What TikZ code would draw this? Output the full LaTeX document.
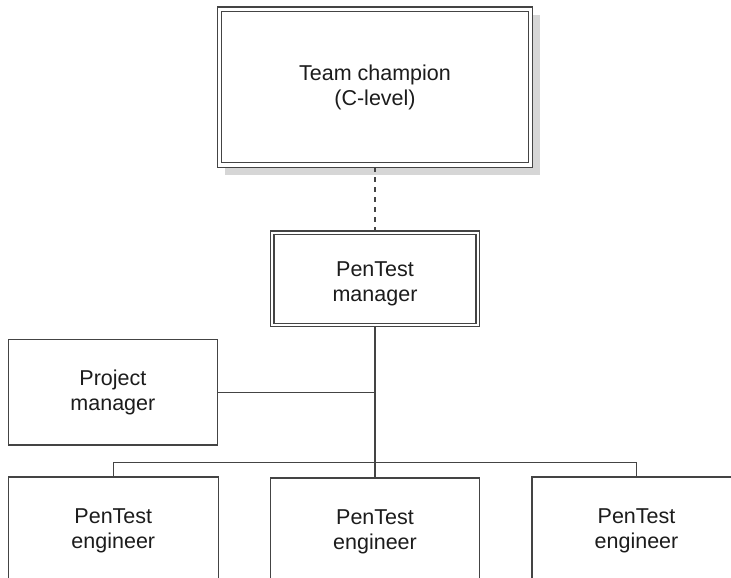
\documentclass[tikz,border=0pt]{standalone}
\usepackage{fontspec}
\setmainfont{Liberation Sans}
\definecolor{linec}{HTML}{444444}
\definecolor{textc}{HTML}{1C1C1C}
\definecolor{shadowc}{HTML}{D6D6D6}
\tikzset{
  box/.style={draw=linec, line width=1.5pt, fill=white, text=textc, align=center,
    font=\fontsize{21.5}{25}\selectfont, inner sep=0pt, outer sep=0.75pt},
  dblbox/.style={box, line width=1.4pt, double=white, double distance=#1},
  conn/.style={draw=linec, line width=1.3pt},
  dashconn/.style={conn, dash pattern=on 5pt off 5pt},
}
\begin{document}
\begin{tikzpicture}[x=1pt,y=-1pt]
\useasboundingbox (0,0) rectangle (731,578);
\clip (0,0) rectangle (731,578);
% shadow of the top box
\fill[shadowc] (225,15.5) rectangle (540,175);
\node[dblbox=3.1pt, outer sep=2.2pt, minimum width=311pt, minimum height=155.5pt] (top) at (375,87.2) {Team champion\\(C-level)};
\node[dblbox=2.1pt, outer sep=1.8pt, minimum width=205.7pt, minimum height=92.3pt] (mgr) at (375,278.8) {\raisebox{-5pt}[\height][\depth]{\begin{tabular}{@{}c@{}}PenTest\\manager\end{tabular}}};
\node[box, minimum width=209.2pt, minimum height=105.7pt] (pm) at (112.9,392.2) {Project\\manager};
\node[box, minimum width=210pt, minimum height=108pt] (eng1) at (113.3,531) {PenTest\\engineer};
\node[box, minimum width=209pt, minimum height=108pt] (eng2) at (375,532) {PenTest\\engineer};
\node[box, minimum width=209pt, minimum height=108pt] (eng3) at (636.5,531) {PenTest\\engineer};
% connectors
\draw[dashconn] (top.south) -- (mgr.north);
\draw[conn] (mgr.south) -- (eng2.north);
\draw[conn] (pm.east) -- (pm.east -| mgr.south);
\draw[conn] (eng1.north) -- ++(0,-14) -| (eng3.north);
\end{tikzpicture}
\end{document}
